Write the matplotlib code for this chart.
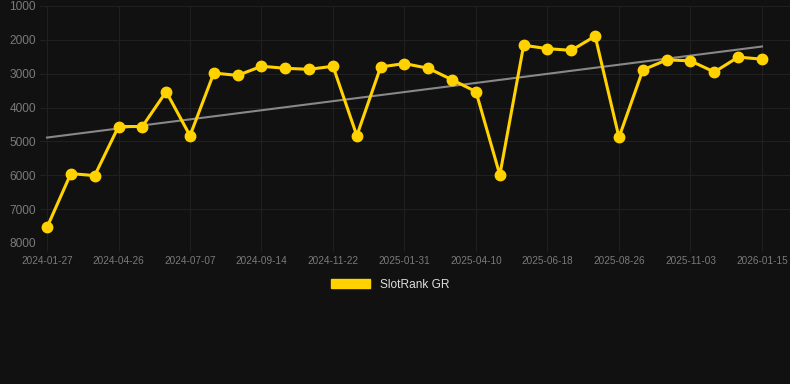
import numpy as np
import matplotlib.pyplot as plt
from matplotlib.patches import Patch

# ranking por periodo (menor = mejor)
rank_gr = [7540, 5950, 6010, 4560, 4560, 3530, 4830, 2980, 3050, 2780,
           2840, 2870, 2780, 4830, 2800, 2700, 2840, 3180, 3530, 5990,
           2160, 2260, 2310, 1890, 4880, 2890, 2590, 2620, 2950, 2510, 2570]
tick_labels = ["2024-01-27", "2024-04-26", "2024-07-07", "2024-09-14",
               "2024-11-22", "2025-01-31", "2025-04-10", "2025-06-18",
               "2025-08-26", "2025-11-03", "2026-01-15"]
y_ticks = [1000, 2000, 3000, 4000, 5000, 6000, 7000, 8000]

bg = "#111111"
oro = "#ffd200"
rejilla = "#202020"

fig = plt.figure(figsize=(7.9, 3.84), dpi=100, facecolor=bg)
ax = fig.add_axes([40/790, 1 - 243/384, 1 - 40/790, (243 - 6)/384])
ax.set_facecolor(bg)

x = np.arange(len(rank_gr))

# linea de tendencia (regresion lineal)
coef = np.polyfit(x, rank_gr, 1)
ax.plot(x, np.polyval(coef, x), color="#888888", lw=1.5, zorder=2)

ax.plot(x, rank_gr, color=oro, lw=2.2, marker="o", ms=7.5, zorder=3)

ax.set_ylim(8000, 1000)
ax.set_yticks(y_ticks)
ax.set_xlim(-7/23.83, len(rank_gr) - 1 + 28/23.83)
ax.set_xticks(x[::3])
ax.set_xticklabels(tick_labels)

ax.grid(True, color=rejilla, lw=0.8)
for s in ax.spines.values():
    s.set_visible(False)
ax.tick_params(axis="both", colors="#7a7a7a")
ax.tick_params(axis="x", labelsize=7.2, length=6, width=0.8, color=rejilla, pad=3)
ax.tick_params(axis="y", labelsize=8.6, length=0, pad=3)
for t in ax.get_xticklabels() + ax.get_yticklabels():
    t.set_family("Liberation Sans")

leg = fig.legend(handles=[Patch(color=oro, label="SlotRank GR")],
                 loc="center", bbox_to_anchor=(0.494, 1 - 285/384),
                 frameon=False, handlelength=3.3, handleheight=0.8,
                 prop={"family": "Liberation Sans", "size": 8.6})
for t in leg.get_texts():
    t.set_color("#dddddd")

fig.savefig("out.png", facecolor=bg)
